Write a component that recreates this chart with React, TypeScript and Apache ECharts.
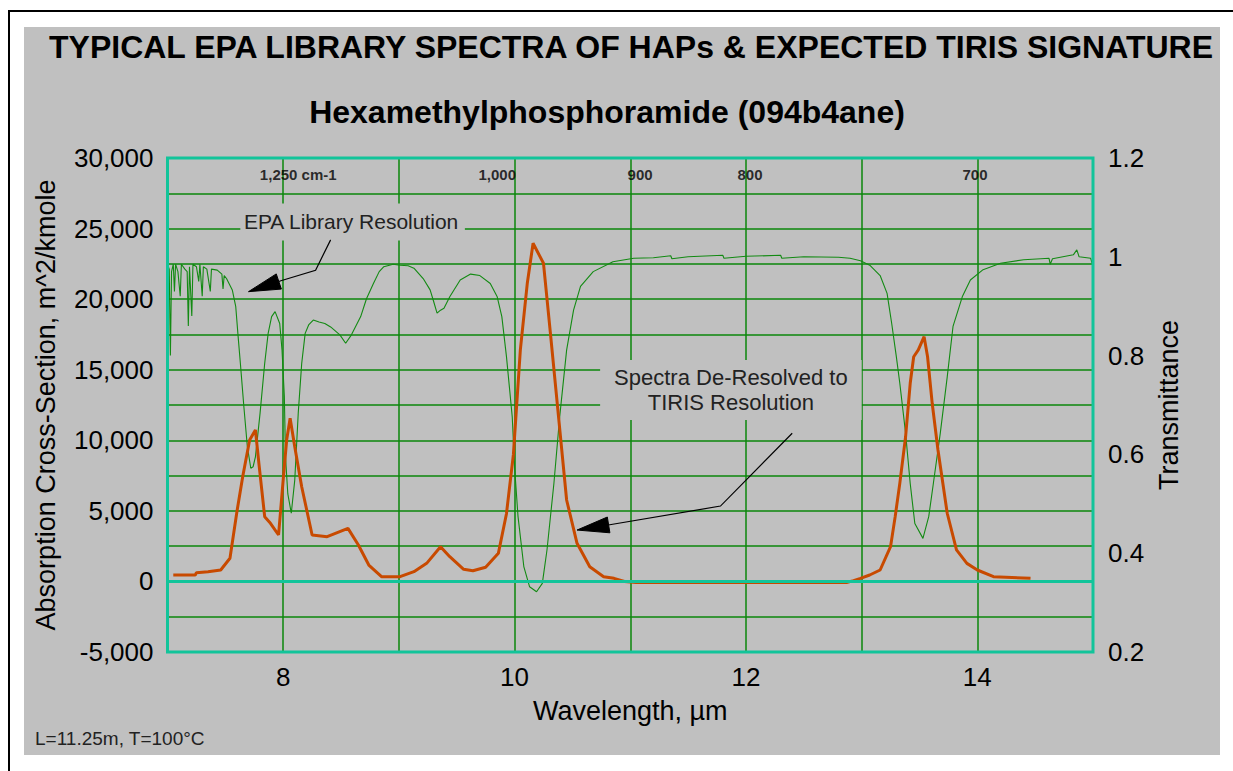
import { useEffect, useRef } from "react";
import * as echarts from "echarts";

// ---- Data ----
// TIRIS-resolution absorption cross-section (left axis, m^2/kmole)
const tirisWavelength = [
  7.05, 7.24, 7.25, 7.35, 7.46, 7.54, 7.6, 7.65, 7.71, 7.76, 7.79, 7.84, 7.89, 7.96, 8.0, 8.03, 8.06, 8.1,
  8.16, 8.25, 8.38, 8.56, 8.65, 8.74, 8.85, 9.01, 9.13, 9.24, 9.36, 9.44, 9.56, 9.64, 9.75, 9.86, 9.93, 9.99,
  10.05, 10.11, 10.16, 10.25, 10.31, 10.38, 10.45, 10.54, 10.65, 10.77, 10.86, 10.95, 11.05, 12.87, 12.93,
  12.99, 13.07, 13.16, 13.25, 13.29, 13.33, 13.38, 13.42, 13.45, 13.49, 13.54, 13.57, 13.61, 13.66, 13.74,
  13.82, 13.91, 14.0, 14.14, 14.46,
];
const tirisCrossSection = [
  450, 455, 620, 690, 810, 1640, 4940, 7420, 10020, 10730, 8370, 4590, 4120, 3290, 7190, 10020, 11560, 9550,
  6710, 3290, 3170, 3760, 2580, 1160, 335, 335, 690, 1280, 2460, 1750, 860, 760, 1000, 1990, 4800, 9000,
  16400, 21120, 23960, 22540, 17580, 11670, 5770, 2700, 1040, 335, 220, 0, -80, -80, 60,
  220, 455, 810, 2460, 4590, 6950, 10250, 14040, 15920, 16400, 17340, 15920, 12620, 9310, 4830,
  2230, 1280, 810, 335, 220,
];

// EPA library resolution transmittance (right axis)
const epaWavelength = [
  7.0, 7.015, 7.025, 7.035, 7.05, 7.06, 7.07, 7.09, 7.11, 7.12, 7.15, 7.17, 7.18, 7.19, 7.21, 7.22, 7.25,
  7.27, 7.28, 7.3, 7.31, 7.34, 7.37, 7.38, 7.43, 7.47, 7.48, 7.49, 7.51, 7.56, 7.59, 7.61, 7.63, 7.66, 7.69,
  7.72, 7.74, 7.76, 7.8, 7.84, 7.87, 7.9, 7.93, 7.97, 7.99, 8.01, 8.02, 8.04, 8.07, 8.1, 8.13, 8.16, 8.19,
  8.22, 8.26, 8.31, 8.36, 8.41, 8.49, 8.54, 8.59, 8.67, 8.72, 8.78, 8.83, 8.87, 8.95, 9.01, 9.08, 9.13, 9.21,
  9.27, 9.3, 9.33, 9.36, 9.39, 9.44, 9.53, 9.62, 9.7, 9.79, 9.85, 9.89, 9.93, 9.98, 10.0, 10.03, 10.08,
  10.13, 10.19, 10.24, 10.28, 10.34, 10.39, 10.45, 10.51, 10.57, 10.68, 10.85, 11.03, 11.2, 11.35, 11.36,
  11.5, 11.8, 11.81, 12.0, 12.3, 12.31, 12.5, 12.8, 12.9, 12.99, 13.07, 13.16, 13.22, 13.26, 13.3, 13.33,
  13.38, 13.42, 13.46, 13.53, 13.58, 13.62, 13.68, 13.74, 13.79, 13.87, 13.94, 14.05, 14.2, 14.4, 14.55,
  14.62, 14.63, 14.65, 14.83, 14.86, 14.88, 14.98, 15.0,
];
const epaTransmittance = [
  0.985, 0.975, 0.8, 0.97, 0.985, 0.93, 0.985, 0.97, 0.92, 0.985, 0.975, 0.97, 0.86, 0.98, 0.88, 0.985, 0.98,
  0.95, 0.985, 0.92, 0.98, 0.975, 0.93, 0.975, 0.973, 0.965, 0.935, 0.962, 0.956, 0.933, 0.899, 0.84, 0.784,
  0.697, 0.616, 0.572, 0.575, 0.595, 0.683, 0.784, 0.845, 0.879, 0.889, 0.865, 0.811, 0.717, 0.595, 0.52,
  0.481, 0.548, 0.683, 0.784, 0.845, 0.862, 0.872, 0.868, 0.865, 0.858, 0.842, 0.825, 0.842, 0.879, 0.915,
  0.946, 0.97, 0.98, 0.985, 0.983, 0.982, 0.977, 0.956, 0.933, 0.91, 0.886, 0.892, 0.896, 0.919, 0.953,
  0.965, 0.962, 0.946, 0.919, 0.879, 0.798, 0.676, 0.575, 0.474, 0.373, 0.332, 0.322, 0.339, 0.406, 0.541,
  0.676, 0.811, 0.892, 0.94, 0.97, 0.99, 0.997, 0.998, 1.002, 0.996, 1.0, 1.003, 0.997, 1.001, 1.003,
  0.997, 1.0, 0.999, 0.997, 0.992, 0.983, 0.962, 0.926, 0.865, 0.798, 0.744, 0.643, 0.541, 0.46, 0.43,
  0.474, 0.541, 0.643, 0.757, 0.859, 0.919, 0.953, 0.974, 0.987, 0.994, 0.996, 0.997, 0.985, 0.996, 1.004,
  1.014, 1.0, 0.997, 0.98,
];

// Wavenumber labels along the top of the plot
const wavenumberLabels = ["1,250 cm-1", "1,000", "900", "800", "700"];
const wavenumberLabelWavelength = [8.13, 9.85, 11.085, 12.035, 13.98];
const wavenumberLabelLevel = 28800;

// Axis ranges
const xRange = [7, 15];
const leftRange = [-5000, 30000];
const rightRange = [0.2, 1.2];

// Annotations (in data coordinates: wavelength, cross-section)
const epaNote = "EPA Library Resolution";
const epaNoteAt = [8.6, 25470];
const epaArrow = [
  [8.41, 24200],
  [8.28, 22050],
  [7.98, 21300],
  [7.7, 20530],
];
const tirisNote = "Spectra De-Resolved to\nTIRIS Resolution";
const tirisNoteAt = [11.87, 13560];
const tirisArrow = [
  [12.4, 10500],
  [11.78, 5340],
  [10.81, 4000],
  [10.54, 3640],
];

const FONT = '"Liberation Sans", Arial, Helvetica, sans-serif';
const GRID_GREEN = "#0b870b";
const TEAL = "#12c49a";
const ORANGE = "#c84a00";
const CURVE_GREEN = "#138a13";

export default function App() {
  const ref = useRef<HTMLDivElement>(null);

  useEffect(() => {
    const chart = echarts.init(ref.current!, null, { renderer: "svg" });
    const option: any = {
      animation: false,
      backgroundColor: "#c0c0c0",
      grid: { left: 143, top: 131, width: 926, height: 494, show: false },
      xAxis: {
        type: "value",
        min: xRange[0],
        max: xRange[1],
        interval: 1,
        axisLine: { show: false },
        axisTick: { show: false },
        splitLine: { show: true, lineStyle: { color: GRID_GREEN, width: 1.5 } },
        axisLabel: {
          margin: 12,
          color: "#000",
          fontFamily: FONT,
          fontSize: 26,
          formatter: (v: number) => (Math.round(v) % 2 === 0 ? String(Math.round(v)) : ""),
        },
        name: "Wavelength, \u00b5m",
        nameLocation: "middle",
        nameGap: 59,
        nameTextStyle: { color: "#000", fontFamily: FONT, fontSize: 27, verticalAlign: "middle" },
      },
      yAxis: [
        {
          type: "value",
          min: leftRange[0],
          max: leftRange[1],
          interval: 2500,
          axisLine: { show: false },
          axisTick: { show: false },
          splitLine: { show: true, lineStyle: { color: GRID_GREEN, width: 1.5 } },
          axisLabel: {
            margin: 14,
            color: "#000",
            fontFamily: FONT,
            fontSize: 26,
            formatter: (v: number) => (v % 5000 === 0 ? v.toLocaleString("en-US") : ""),
          },
          name: "Absorption Cross-Section, m^2/kmole",
          nameLocation: "middle",
          nameRotate: 90,
          nameGap: 122,
          nameTextStyle: { color: "#000", fontFamily: FONT, fontSize: 27, verticalAlign: "middle" },
        },
        {
          type: "value",
          min: rightRange[0],
          max: rightRange[1],
          interval: 0.2,
          position: "right",
          axisLine: { show: false },
          axisTick: { show: false },
          splitLine: { show: false },
          axisLabel: {
            margin: 15,
            color: "#000",
            fontFamily: FONT,
            fontSize: 26,
            formatter: (v: number) => String(+v.toFixed(1)),
          },
          name: "Transmittance",
          nameLocation: "middle",
          nameRotate: 90,
          nameGap: 72,
          nameTextStyle: { color: "#000", fontFamily: FONT, fontSize: 27, verticalAlign: "middle" },
        },
      ],
      series: [
        {
          name: "EPA Library",
          type: "line",
          yAxisIndex: 1,
          showSymbol: false,
          symbol: "none",
          data: epaWavelength.map((x, i) => [x, epaTransmittance[i]]),
          lineStyle: { color: CURVE_GREEN, width: 1.1 },
          z: 2,
        },
        {
          name: "TIRIS",
          type: "line",
          yAxisIndex: 0,
          showSymbol: false,
          symbol: "none",
          data: tirisWavelength.map((x, i) => [x, tirisCrossSection[i]]),
          lineStyle: { color: ORANGE, width: 3 },
          z: 3,
          markLine: {
            silent: true,
            symbol: "none",
            label: { show: false },
            lineStyle: { color: TEAL, width: 3, type: "solid" },
            data: [{ yAxis: 0 }],
          },
        },
        {
          name: "Wavenumber",
          type: "scatter",
          yAxisIndex: 0,
          symbolSize: 0,
          silent: true,
          data: wavenumberLabelWavelength.map((x, i) => ({
            value: [x, wavenumberLabelLevel],
            name: wavenumberLabels[i],
          })),
          label: {
            show: true,
            position: "inside",
            formatter: (p: any) => p.name,
            color: "#000",
            fontFamily: FONT,
            fontWeight: "bold",
            fontSize: 15,
          },
          z: 4,
        },
      ],
    };
    chart.setOption(option);

    const px = (p: number[]) => chart.convertToPixel({ gridIndex: 0 }, p) as number[];
    const arrow = (pts: number[][]) => {
      const p = pts.map(px);
      const tip = p[p.length - 1];
      const prev = p[p.length - 2];
      const dx = tip[0] - prev[0];
      const dy = tip[1] - prev[1];
      const len = Math.hypot(dx, dy) || 1;
      const ux = dx / len;
      const uy = dy / len;
      const headLen = 32;
      const half = 8;
      const bx = tip[0] - ux * headLen;
      const by = tip[1] - uy * headLen;
      return [
        {
          type: "polyline",
          shape: { points: p.slice(0, -1).concat([[bx, by]]) },
          style: { stroke: "#000", lineWidth: 1.2, fill: null },
          z: 50,
          silent: true,
        },
        {
          type: "polygon",
          shape: {
            points: [
              tip,
              [bx - uy * half, by + ux * half],
              [bx + uy * half, by - ux * half],
            ],
          },
          style: { fill: "#000", stroke: "#000", lineWidth: 1 },
          z: 50,
          silent: true,
        },
      ];
    };

    const tl = px([xRange[0], leftRange[1]]);
    const br = px([xRange[1], leftRange[0]]);
    const epaPos = px(epaNoteAt);
    const tirisPos = px(tirisNoteAt);

    const graphic: any[] = [
      {
        type: "rect",
        shape: { x: tl[0], y: tl[1], width: br[0] - tl[0], height: br[1] - tl[1] },
        style: { fill: null, stroke: TEAL, lineWidth: 3 },
        z: 60,
        silent: true,
      },
      {
        type: "text",
        style: {
          text: "TYPICAL EPA LIBRARY SPECTRA OF HAPs & EXPECTED TIRIS SIGNATURE",
          x: 607,
          y: 20,
          align: "center",
          verticalAlign: "middle",
          textAlign: "center",
          textVerticalAlign: "middle",
          font: `bold 32px ${FONT}`,
          fill: "#000",
        },
      },
      {
        type: "text",
        style: {
          text: "Hexamethylphosphoramide (094b4ane)",
          x: 583,
          y: 85,
          align: "center",
          verticalAlign: "middle",
          textAlign: "center",
          textVerticalAlign: "middle",
          font: `bold 32px ${FONT}`,
          fill: "#000",
        },
      },
      {
        type: "text",
        style: {
          text: "L=11.25m, T=100\u00b0C",
          x: 11,
          y: 711,
          align: "left",
          verticalAlign: "middle",
          textAlign: "left",
          textVerticalAlign: "middle",
          font: `19px ${FONT}`,
          fill: "#222",
        },
      },
      {
        type: "text",
        z: 40,
        style: {
          text: epaNote,
          x: epaPos[0],
          y: epaPos[1],
          align: "center",
          verticalAlign: "middle",
          textAlign: "center",
          textVerticalAlign: "middle",
          font: `21px ${FONT}`,
          fill: "#222",
          backgroundColor: "#c0c0c0",
          padding: [12, 6, 4, 3],
        },
      },
      {
        type: "text",
        z: 40,
        style: {
          text: tirisNote,
          x: tirisPos[0],
          y: tirisPos[1],
          align: "center",
          verticalAlign: "middle",
          textAlign: "center",
          textVerticalAlign: "middle",
          font: `22px ${FONT}`,
          lineHeight: 25,
          fill: "#222",
          backgroundColor: "#c0c0c0",
          padding: [8, 14, 2, 14],
        },
      },
      ...arrow(epaArrow),
      ...arrow(tirisArrow),
    ];
    chart.setOption({ graphic });

    return () => chart.dispose();
  }, []);

  return (
    <div
      style={{
        position: "absolute",
        left: 0,
        top: 0,
        width: 1233,
        height: 771,
        background: "#fff",
        overflow: "hidden",
      }}
    >
      <div
        style={{
          position: "absolute",
          left: 8,
          top: 10,
          width: 1400,
          height: 900,
          borderLeft: "2px solid #000",
          borderTop: "2px solid #000",
        }}
      />
      <div ref={ref} style={{ position: "absolute", left: 24, top: 27, width: 1196, height: 728 }} />
    </div>
  );
}
